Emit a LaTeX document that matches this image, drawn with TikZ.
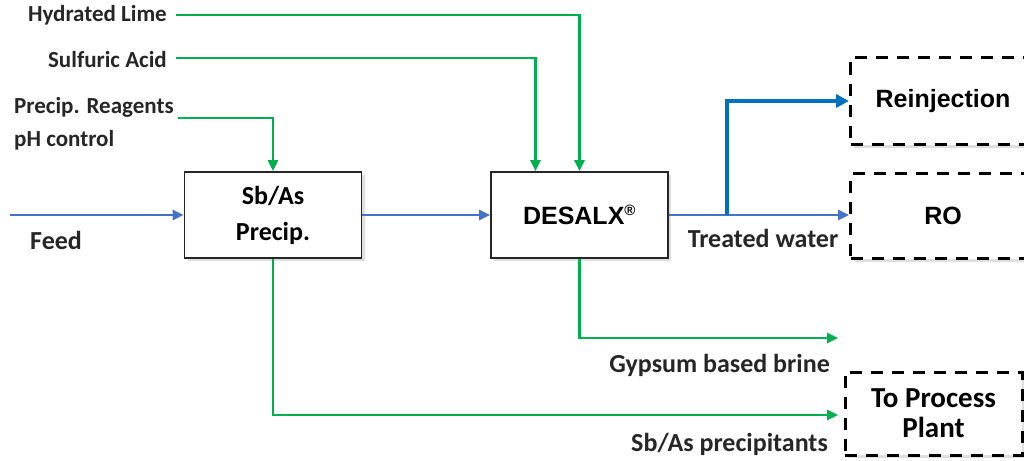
\documentclass[tikz,border=0pt]{standalone}
\usepackage{fontspec}
\setmainfont{Carlito}
\newfontfamily\arialf{Liberation Sans}
\usetikzlibrary{arrows.meta,shadows}
\definecolor{flowgreen}{HTML}{00B050}
\definecolor{flowblue}{HTML}{4472C4}
\definecolor{deepblue}{HTML}{0070C0}
\begin{document}
\begin{tikzpicture}[x=1pt,y=-1pt,
  lbl/.style={font=\fontsize{23}{25}\selectfont\bfseries, text=black!85, inner sep=0pt},
  lblb/.style={font=\fontsize{26}{28}\selectfont\bfseries, text=black!85, inner sep=0pt},
  procbox/.style={draw=black!85, line width=1.8pt, fill=white, minimum width=177pt, minimum height=86pt, align=center,
     drop shadow={opacity=0.25, shadow xshift=3pt, shadow yshift=-3pt}},
  destbox/.style={draw=black, line width=3pt, dash pattern=on 12pt off 9pt, fill=white, align=center,
     drop shadow={opacity=0.25, shadow xshift=3pt, shadow yshift=-3pt}},
  gflow/.style={draw=flowgreen, line width=2.6pt, -{Triangle[length=11pt,width=10pt]}},
  bflow/.style={draw=flowblue, line width=2.6pt, -{Triangle[length=11pt,width=10pt]}},
  bthick/.style={draw=deepblue, line width=4.5pt, -{Triangle[length=13pt,width=13pt]}},
]
\useasboundingbox (0,0) rectangle (1024,460);
\fill[white] (0,0) rectangle (1024,460);

% process boxes
\node[procbox, font=\fontsize{26}{36}\selectfont\bfseries] (sb) at (273,215) {Sb/As\\Precip.};
\node[procbox, font=\arialf\fontsize{25}{28}\selectfont\bfseries] (desalx) at (579.5,215) {DESALX\textsuperscript{\fontsize{15}{15}\selectfont\textregistered}};

% destination boxes
\node[destbox, minimum width=185pt, minimum height=87pt, font=\arialf\fontsize{25}{28}\selectfont\bfseries] (reinj) at (943,101) {Reinjection};
\node[destbox, minimum width=185pt, minimum height=85pt, font=\arialf\fontsize{25}{28}\selectfont\bfseries] (ro) at (943,216) {RO};
\node[destbox, minimum width=177pt, minimum height=83pt, font=\fontsize{29}{30}\selectfont\bfseries] (tpp) at (933.5,413.5) {To Process\\Plant};

% labels
\node[lbl, anchor=east] (hl) at (167,15) {Hydrated Lime};
\node[lbl, anchor=east] (sa) at (167,60) {Sulfuric Acid};
\node[lbl, anchor=west] (pr) at (14,107) {Precip. Reagents};
\node[lbl, anchor=west] (ph) at (14,140) {pH control};
\node[lblb, anchor=west] (feed) at (30,240) {Feed};
\node[lblb] (tw) at (763,238) {Treated water};
\node[lblb, anchor=east] (gb) at (830,365) {Gypsum based brine};
\node[lblb, anchor=east] (sp) at (828,444) {Sb/As precipitants};

% coordinates
\coordinate (feedin) at (10,215);
\coordinate (hlstart) at (176,15);
\coordinate (sastart) at (176,58);
\coordinate (prstart) at (178,118);
\coordinate (branch) at (727,215);
\coordinate (gbend) at (838,338);
\coordinate (spend) at (838,415);

% connectors
\draw[bflow] (feedin) -- (sb.west);
\draw[bflow] (sb.east) -- (desalx.west);
\draw[bflow] (desalx.east) -- (desalx.east -| ro.west);
\draw[bthick] (branch) |- (reinj.west);
\draw[gflow] (prstart) -| (sb.north);
\draw[gflow] (sastart) -| ([xshift=-44pt]desalx.north);
\draw[gflow] (hlstart) -| (desalx.north);
\draw[gflow] (desalx.south) |- (gbend);
\draw[gflow] (sb.south) |- (spend);
\end{tikzpicture}
\end{document}
